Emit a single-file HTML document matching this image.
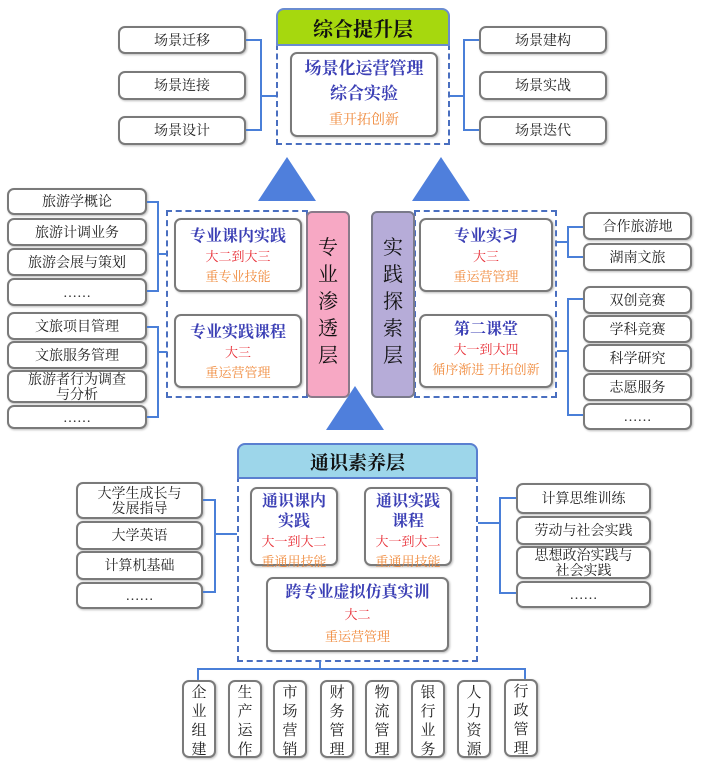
<!DOCTYPE html>
<html><head><meta charset="utf-8"><style>
body{margin:0;width:702px;height:768px;background:#fff;position:relative;overflow:hidden;font-family:"Liberation Serif","Noto Serif CJK SC","Noto Sans CJK SC",serif;}
.a{position:absolute;box-sizing:border-box;}
.b{position:absolute;box-sizing:border-box;border:2px solid #7a7a7a;border-radius:7px;background:#fff;text-align:center;font-size:14px;color:#222;display:flex;align-items:center;justify-content:center;line-height:15px;padding-top:2px;box-shadow:1px 1px 2px #bbb;}
.d{position:absolute;box-sizing:border-box;border:2px dashed #4a6fc0;}
.ln{position:absolute;background:#4a7fd8;}
.t{position:absolute;text-align:center;}
.bl{color:#3b3fb5;font-weight:bold;}
.rd{color:#e83038;}
.or{color:#f08a3c;}
.v{position:absolute;box-sizing:border-box;border:2px solid #7a7a7a;border-radius:7px;background:#fff;font-size:15px;color:#222;text-align:center;line-height:19px;padding-top:2px;box-shadow:1px 1px 2px #bbb;}
.tri{position:absolute;width:0;height:0;border-left:29px solid transparent;border-right:29px solid transparent;border-bottom:44px solid #4f7fdc;}
</style></head><body>

<!-- top -->
<div class="d" style="left:276px;top:44px;width:174px;height:101px;"></div>
<div class="a" style="left:276px;top:8px;width:174px;height:38px;background:#a6d80e;border:2px solid #6a8cd0;border-radius:8px 8px 0 0;font-size:20px;font-weight:bold;display:flex;align-items:center;justify-content:center;color:#111;">综合提升层</div>
<div class="b" style="left:290px;top:52px;width:148px;height:85px;display:block;"></div>
<div class="t bl" style="left:290px;top:56px;width:148px;font-size:17px;line-height:25px;">场景化运营管理<br>综合实验</div>
<div class="t or" style="left:290px;top:109px;width:148px;font-size:14px;">重开拓创新</div>

<div class="b" style="left:118px;top:26px;width:128px;height:28px;">场景迁移</div>
<div class="b" style="left:118px;top:71px;width:128px;height:29px;">场景连接</div>
<div class="b" style="left:118px;top:116px;width:128px;height:29px;">场景设计</div>
<div class="ln" style="left:246px;top:39px;width:16px;height:2px;"></div>
<div class="ln" style="left:246px;top:129px;width:16px;height:2px;"></div>
<div class="ln" style="left:260px;top:39px;width:2px;height:92px;"></div>
<div class="ln" style="left:260px;top:95px;width:16px;height:2px;"></div>

<div class="b" style="left:479px;top:26px;width:128px;height:28px;">场景建构</div>
<div class="b" style="left:479px;top:71px;width:128px;height:29px;">场景实战</div>
<div class="b" style="left:479px;top:116px;width:128px;height:29px;">场景迭代</div>
<div class="ln" style="left:463px;top:39px;width:16px;height:2px;"></div>
<div class="ln" style="left:463px;top:129px;width:16px;height:2px;"></div>
<div class="ln" style="left:463px;top:39px;width:2px;height:92px;"></div>
<div class="ln" style="left:450px;top:95px;width:15px;height:2px;"></div>

<div class="tri" style="left:258px;top:157px;"></div>
<div class="tri" style="left:412px;top:157px;"></div>
<div class="tri" style="left:326px;top:386px;"></div>

<!-- middle left -->
<div class="d" style="left:166px;top:210px;width:142px;height:188px;"></div>
<div class="b" style="left:174px;top:218px;width:128px;height:74px;display:block;"></div>
<div class="t" style="left:174px;top:227px;width:128px;font-size:16px;line-height:20px;"><span class="bl">专业课内实践</span><br><span class="rd" style="font-size:13px">大二到大三</span><br><span class="or" style="font-size:13px">重专业技能</span></div>
<div class="b" style="left:174px;top:314px;width:128px;height:74px;display:block;"></div>
<div class="t" style="left:174px;top:323px;width:128px;font-size:16px;line-height:20px;"><span class="bl">专业实践课程</span><br><span class="rd" style="font-size:13px">大三</span><br><span class="or" style="font-size:13px">重运营管理</span></div>
<div class="a" style="left:306px;top:211px;width:44px;height:187px;background:#f7a8c4;border:2px solid #8a7a8a;border-radius:6px;font-size:20px;line-height:27px;text-align:center;padding-top:22px;color:#111;">专<br>业<br>渗<br>透<br>层</div>

<div class="b" style="left:7px;top:188px;width:140px;height:27px;">旅游学概论</div>
<div class="b" style="left:7px;top:218px;width:140px;height:28px;">旅游计调业务</div>
<div class="b" style="left:7px;top:248px;width:140px;height:28px;">旅游会展与策划</div>
<div class="b" style="left:7px;top:278px;width:140px;height:28px;">……</div>
<div class="b" style="left:7px;top:312px;width:140px;height:28px;">文旅项目管理</div>
<div class="b" style="left:7px;top:341px;width:140px;height:28px;">文旅服务管理</div>
<div class="b" style="left:7px;top:370px;width:140px;height:33px;">旅游者行为调查<br>与分析</div>
<div class="b" style="left:7px;top:405px;width:140px;height:24px;">……</div>
<div class="ln" style="left:147px;top:201px;width:12px;height:2px;"></div>
<div class="ln" style="left:147px;top:290px;width:12px;height:2px;"></div>
<div class="ln" style="left:157px;top:201px;width:2px;height:91px;"></div>
<div class="ln" style="left:157px;top:253px;width:10px;height:2px;"></div>
<div class="ln" style="left:147px;top:326px;width:12px;height:2px;"></div>
<div class="ln" style="left:147px;top:416px;width:12px;height:2px;"></div>
<div class="ln" style="left:157px;top:326px;width:2px;height:92px;"></div>
<div class="ln" style="left:157px;top:351px;width:10px;height:2px;"></div>

<!-- middle right -->
<div class="d" style="left:414px;top:210px;width:143px;height:188px;"></div>
<div class="a" style="left:371px;top:211px;width:44px;height:187px;background:#b6acd8;border:2px solid #7a7a8a;border-radius:6px;font-size:20px;line-height:27px;text-align:center;padding-top:22px;color:#111;">实<br>践<br>探<br>索<br>层</div>
<div class="b" style="left:419px;top:218px;width:134px;height:74px;display:block;"></div>
<div class="t" style="left:419px;top:227px;width:134px;font-size:16px;line-height:20px;"><span class="bl">专业实习</span><br><span class="rd" style="font-size:13px">大三</span><br><span class="or" style="font-size:13px">重运营管理</span></div>
<div class="b" style="left:419px;top:314px;width:134px;height:74px;display:block;"></div>
<div class="t" style="left:419px;top:320px;width:134px;font-size:16px;line-height:20px;"><span class="bl">第二课堂</span><br><span class="rd" style="font-size:13px">大一到大四</span><br><span class="or" style="font-size:13px">循序渐进 开拓创新</span></div>

<div class="b" style="left:583px;top:212px;width:109px;height:28px;">合作旅游地</div>
<div class="b" style="left:583px;top:243px;width:109px;height:28px;">湖南文旅</div>
<div class="b" style="left:583px;top:286px;width:109px;height:28px;">双创竞赛</div>
<div class="b" style="left:583px;top:315px;width:109px;height:28px;">学科竞赛</div>
<div class="b" style="left:583px;top:344px;width:109px;height:28px;">科学研究</div>
<div class="b" style="left:583px;top:373px;width:109px;height:28px;">志愿服务</div>
<div class="b" style="left:583px;top:403px;width:109px;height:27px;">……</div>
<div class="ln" style="left:567px;top:226px;width:16px;height:2px;"></div>
<div class="ln" style="left:567px;top:256px;width:16px;height:2px;"></div>
<div class="ln" style="left:567px;top:226px;width:2px;height:32px;"></div>
<div class="ln" style="left:557px;top:241px;width:11px;height:2px;"></div>
<div class="ln" style="left:567px;top:298px;width:16px;height:2px;"></div>
<div class="ln" style="left:567px;top:414px;width:16px;height:2px;"></div>
<div class="ln" style="left:567px;top:298px;width:2px;height:118px;"></div>
<div class="ln" style="left:557px;top:350px;width:11px;height:2px;"></div>

<!-- bottom -->
<div class="d" style="left:237px;top:476px;width:241px;height:186px;"></div>
<div class="a" style="left:237px;top:443px;width:241px;height:36px;background:#9dd6ea;border:2px solid #5a7fd0;border-radius:8px 8px 0 0;font-size:19px;font-weight:bold;display:flex;align-items:center;justify-content:center;color:#111;">通识素养层</div>
<div class="b" style="left:250px;top:487px;width:88px;height:79px;display:block;"></div>
<div class="t" style="left:250px;top:492px;width:88px;font-size:16px;line-height:20px;"><span class="bl">通识课内<br>实践</span><br><span class="rd" style="font-size:13px;line-height:18px">大一到大二</span><br><span class="or" style="font-size:13px;line-height:16px">重通用技能</span></div>
<div class="b" style="left:364px;top:487px;width:88px;height:79px;display:block;"></div>
<div class="t" style="left:364px;top:492px;width:88px;font-size:16px;line-height:20px;"><span class="bl">通识实践<br>课程</span><br><span class="rd" style="font-size:13px;line-height:18px">大一到大二</span><br><span class="or" style="font-size:13px;line-height:16px">重通用技能</span></div>
<div class="b" style="left:266px;top:577px;width:183px;height:75px;display:block;"></div>
<div class="t" style="left:266px;top:582px;width:183px;font-size:16px;line-height:22px;"><span class="bl">跨专业虚拟仿真实训</span><br><span class="rd" style="font-size:13px">大二</span><br><span class="or" style="font-size:13px">重运营管理</span></div>

<div class="b" style="left:76px;top:482px;width:127px;height:37px;">大学生成长与<br>发展指导</div>
<div class="b" style="left:76px;top:521px;width:127px;height:29px;">大学英语</div>
<div class="b" style="left:76px;top:551px;width:127px;height:29px;">计算机基础</div>
<div class="b" style="left:76px;top:582px;width:127px;height:27px;">……</div>
<div class="ln" style="left:203px;top:499px;width:13px;height:2px;"></div>
<div class="ln" style="left:203px;top:591px;width:13px;height:2px;"></div>
<div class="ln" style="left:214px;top:499px;width:2px;height:94px;"></div>
<div class="ln" style="left:214px;top:533px;width:23px;height:2px;"></div>

<div class="b" style="left:516px;top:483px;width:135px;height:31px;">计算思维训练</div>
<div class="b" style="left:516px;top:516px;width:135px;height:29px;">劳动与社会实践</div>
<div class="b" style="left:516px;top:546px;width:135px;height:33px;">思想政治实践与<br>社会实践</div>
<div class="b" style="left:516px;top:581px;width:135px;height:27px;">……</div>
<div class="ln" style="left:499px;top:497px;width:17px;height:2px;"></div>
<div class="ln" style="left:499px;top:592px;width:17px;height:2px;"></div>
<div class="ln" style="left:499px;top:497px;width:2px;height:97px;"></div>
<div class="ln" style="left:478px;top:522px;width:22px;height:2px;"></div>

<div class="ln" style="left:319px;top:661px;width:2px;height:9px;"></div>
<div class="ln" style="left:197px;top:668px;width:329px;height:2px;"></div>
<div class="ln" style="left:197px;top:668px;width:2px;height:13px;"></div>
<div class="ln" style="left:524px;top:668px;width:2px;height:13px;"></div>

<div class="v" style="left:182px;top:680px;width:34px;height:78px;">企<br>业<br>组<br>建</div>
<div class="v" style="left:228px;top:680px;width:34px;height:78px;">生<br>产<br>运<br>作</div>
<div class="v" style="left:273px;top:680px;width:34px;height:78px;">市<br>场<br>营<br>销</div>
<div class="v" style="left:320px;top:680px;width:34px;height:78px;">财<br>务<br>管<br>理</div>
<div class="v" style="left:365px;top:680px;width:34px;height:78px;">物<br>流<br>管<br>理</div>
<div class="v" style="left:411px;top:680px;width:34px;height:78px;">银<br>行<br>业<br>务</div>
<div class="v" style="left:457px;top:680px;width:34px;height:78px;">人<br>力<br>资<br>源</div>
<div class="v" style="left:504px;top:679px;width:34px;height:78px;">行<br>政<br>管<br>理</div>
</body></html>
